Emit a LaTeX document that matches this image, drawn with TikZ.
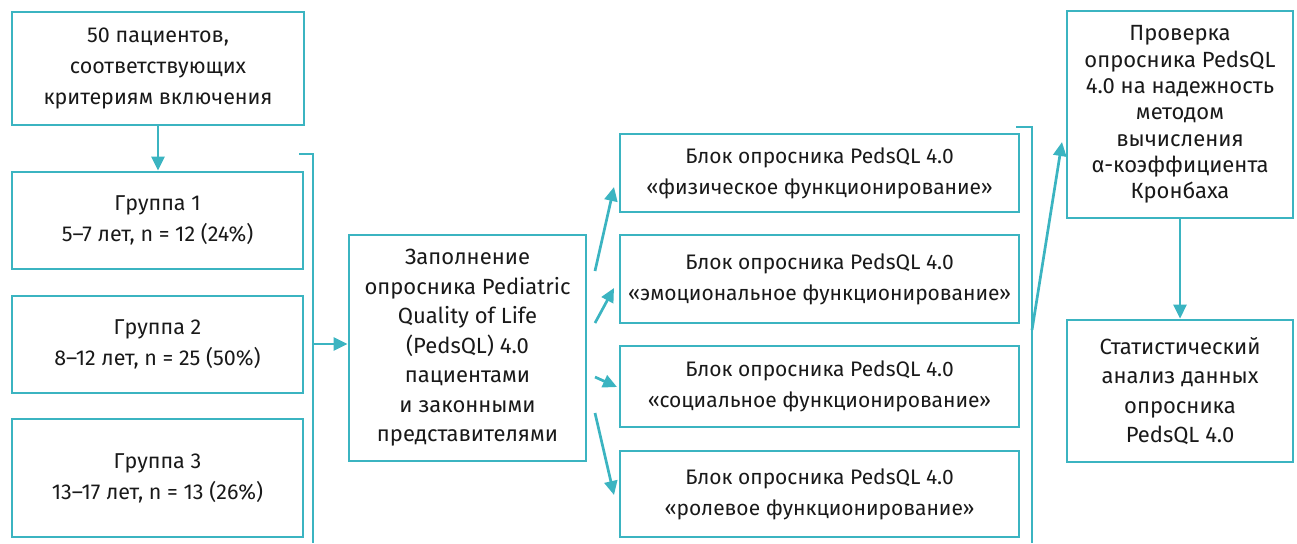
\documentclass[tikz,border=0pt]{standalone}
\usepackage{fontspec}
\setmainfont{Fira Sans}
\usetikzlibrary{arrows.meta,calc}
\definecolor{teal1}{HTML}{3BB4C1}
\begin{document}
\begin{tikzpicture}[x=1pt,y=-1pt,
  box/.style={draw=teal1, line width=2.7pt, align=center, inner sep=0pt, text=black!90},
  arr/.style={draw=teal1, line width=2.7pt, -{Triangle[length=14pt,width=13pt]}},
  brk/.style={draw=teal1, line width=2.7pt},
  fa/.style={font=\fontsize{21.5}{31}\selectfont},
  fd/.style={font=\fontsize{21}{31}\selectfont},
  fb/.style={font=\fontsize{22}{29.5}\selectfont},
  fc/.style={font=\fontsize{22}{26.3}\selectfont}]
\useasboundingbox (0,0) rectangle (1297,543);
% left column
\node[box,fa,minimum width=292pt,minimum height=113pt] (b1) at (158,68.5) {50 пациентов,\\соответствующих\\критериям включения};
\node[box,fa,minimum width=291pt,minimum height=97pt] (g1) at (157.5,220.5) {Группа 1\\5–7 лет, n = 12 (24\%)};
\node[box,fa,minimum width=291pt,minimum height=97pt] (g2) at (157.5,344.5) {Группа 2\\8–12 лет, n = 25 (50\%)};
\node[box,fa,minimum width=291pt,minimum height=118pt] (g3) at (157.5,478) {Группа 3\\13–17 лет, n = 13 (26\%)};
% centre
\node[box,fb,minimum width=237pt,minimum height=226pt] (c) at (467.5,348) {Заполнение\\опросника Pediatric\\Quality of Life\\(PedsQL) 4.0\\пациентами\\и законными\\представителями};
% blocks
\node[box,fd,minimum width=399pt,minimum height=78pt] (ba) at (819.5,173) {Блок опросника PedsQL 4.0\\«физическое функционирование»};
\node[box,fd,minimum width=399pt,minimum height=88pt] (bb) at (819.5,279) {Блок опросника PedsQL 4.0\\«эмоциональное функционирование»};
\node[box,fd,minimum width=399pt,minimum height=81pt] (bc) at (819.5,386.5) {Блок опросника PedsQL 4.0\\«социальное функционирование»};
\node[box,fd,minimum width=399pt,minimum height=86pt] (bd) at (819.5,494) {Блок опросника PedsQL 4.0\\«ролевое функционирование»};
% right
\node[box,fc,minimum width=226pt,minimum height=207pt] (r1) at (1180,114.5) {Проверка\\опросника PedsQL\\4.0 на надежность\\методом\\вычисления\\α-коэффициента\\Кронбаха};
\node[box,fb,minimum width=226pt,minimum height=142pt] (r2) at (1180,391) {Статистический\\анализ данных\\опросника\\PedsQL 4.0};
% connectors
\draw[arr] (b1.south) -- (b1.south |- g1.north);
\coordinate (k1a) at (299,154);
\coordinate (k1b) at (313,154);
\coordinate (k1c) at (313,543);
\coordinate (k1m) at (313,344);
\draw[brk] (k1a) -- (k1b) -- (k1c);
\draw[arr] (k1m) -- (c.west |- k1m);
\coordinate (s1) at (595,271); \coordinate (e1) at (614,187);
\coordinate (s2) at (595,323); \coordinate (e2) at (614,288);
\coordinate (s3) at (595,377); \coordinate (e3) at (617,387);
\coordinate (s4) at (595,413); \coordinate (e4) at (614,495);
\draw[arr] (s1) -- (e1);
\draw[arr] (s2) -- (e2);
\draw[arr] (s3) -- (e3);
\draw[arr] (s4) -- (e4);
\coordinate (k2a) at (1016,127);
\coordinate (k2b) at (1032,127);
\coordinate (k2c) at (1032,543);
\coordinate (k2m) at (1032,330);
\coordinate (k2e) at (1062,142);
\draw[brk] (k2a) -- (k2b) -- (k2c);
\draw[arr] (k2m) -- (k2e);
\draw[arr] (r1.south) -- (r1.south |- r2.north);
\end{tikzpicture}
\end{document}
